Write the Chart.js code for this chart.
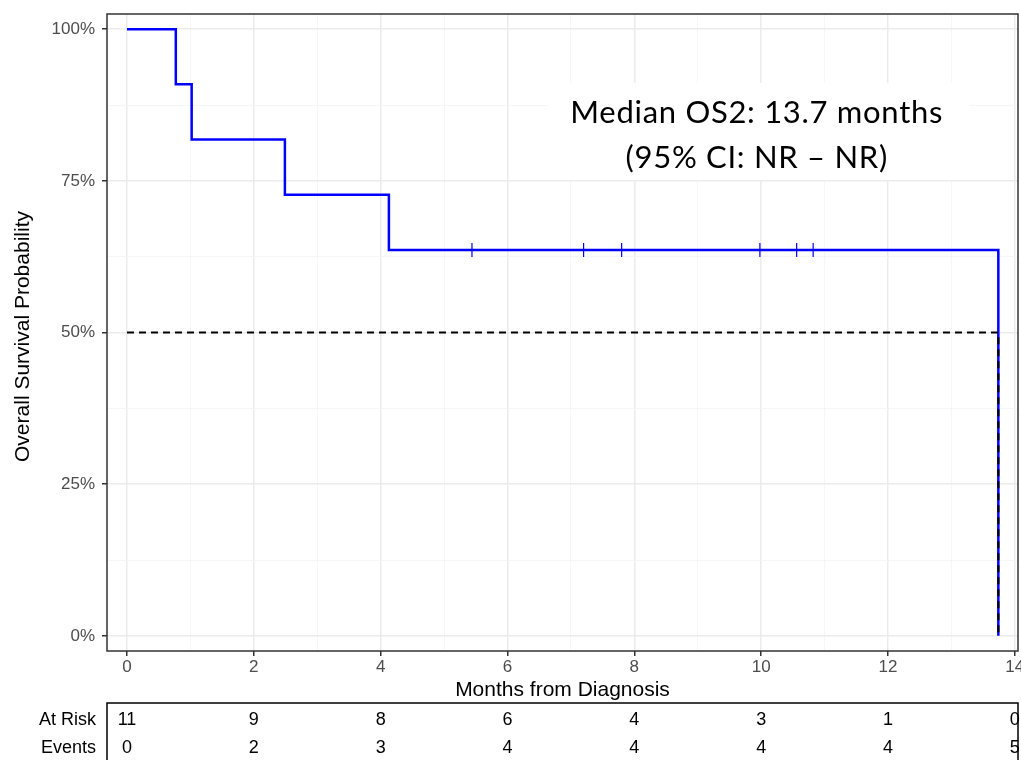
<!DOCTYPE html>
<html>
<head>
<meta charset="utf-8">
<script src="https://cdn.jsdelivr.net/npm/chart.js@4.4.1/dist/chart.umd.min.js"></script>
<style>
  body { margin: 0; background: #fff; }
  canvas { display: block; }
</style>
</head>
<body>
<canvas id="kmChart" width="1021" height="760"></canvas>
<script>
// Kaplan-Meier curve values (months, survival %)
const stepTimes = [0, 0.77, 1.02, 2.49, 4.13, 13.74];
const stepSurvival = [100, 90.9, 81.8, 72.7, 63.6, 0];
const censorTimes = [5.44, 7.2, 7.8, 9.98, 10.56, 10.82];
const censorSurvival = [63.6, 63.6, 63.6, 63.6, 63.6, 63.6];
const medianTime = 13.74;
const medianLevel = 50;

const xTickValues = [0, 2, 4, 6, 8, 10, 12, 14];
const xTickLabels = ['0', '2', '4', '6', '8', '10', '12', '14'];
const yTickValues = [0, 25, 50, 75, 100];
const yTickLabels = ['0%', '25%', '50%', '75%', '100%'];

const riskTimes = [0, 2, 4, 6, 8, 10, 12, 14];
const atRisk = [11, 9, 8, 6, 4, 3, 1, 0];
const eventsCount = [0, 2, 3, 4, 4, 4, 4, 5];

const annotationLines = ['Median OS2: 13.7 months', '(95% CI: NR \u2013 NR)'];

Chart.defaults.font.family = "'Liberation Sans', Arial, sans-serif";

// minor grid positions sit halfway between the major ticks
function withMinor(major) {
    const out = [];
    major.forEach((v, i) => {
        out.push(v);
        if (i < major.length - 1) out.push((v + major[i + 1]) / 2);
    });
    return out;
}
const isMajorX = v => xTickValues.includes(v);
const isMajorY = v => yTickValues.includes(v);

const panelPlugin = {
    id: 'panel',
    beforeDatasetsDraw(chart) {
        const c = chart.ctx;
        const x = chart.scales.x;
        const area = chart.chartArea;
        c.save();
        // white box behind the median label
        c.fillStyle = '#ffffff';
        c.fillRect(area.left + 441, 83, 422, 97);
        c.fillStyle = '#000000';
        c.font = "31px Lato, 'Open Sans', sans-serif";
        c.letterSpacing = '0.7px';
        c.textAlign = 'center';
        c.textBaseline = 'alphabetic';
        c.fillText(annotationLines[0], x.getPixelForValue(9.93), 123);
        c.fillText(annotationLines[1], x.getPixelForValue(9.93), 168);
        c.restore();
    },
    afterDraw(chart) {
        const c = chart.ctx;
        const x = chart.scales.x;
        const area = chart.chartArea;
        c.save();
        c.strokeStyle = '#333333';
        c.lineWidth = 1.5;
        c.strokeRect(area.left, area.top, area.right - area.left, area.bottom - area.top);

        // x tick labels
        c.fillStyle = '#4d4d4d';
        c.font = "17px 'Liberation Sans', Arial, sans-serif";
        c.textAlign = 'center';
        c.textBaseline = 'middle';
        xTickValues.forEach((v, i) => {
            c.fillText(xTickLabels[i], x.getPixelForValue(v), 667);
        });

        c.fillStyle = '#000000';
        c.font = "21px 'Liberation Sans', Arial, sans-serif";
        c.fillText('Months from Diagnosis', (area.left + area.right) / 2, 690);

        c.save();
        c.translate(23, (area.top + area.bottom) / 2 + 4);
        c.rotate(-Math.PI / 2);
        c.fillText('Overall Survival Probability', 0, 0);
        c.restore();

        // risk table
        c.strokeStyle = '#000000';
        c.lineWidth = 1.5;
        c.strokeRect(area.left, 703, area.right - area.left, 80);
        c.font = "18px 'Liberation Sans', Arial, sans-serif";
        c.textAlign = 'right';
        c.fillText('At Risk', 96, 720);
        c.fillText('Events', 96, 748);
        c.textAlign = 'center';
        riskTimes.forEach((t, i) => {
            const px = x.getPixelForValue(t);
            c.fillText(String(atRisk[i]), px, 720);
            c.fillText(String(eventsCount[i]), px, 748);
        });
        c.restore();
    }
};

const ctx = document.getElementById('kmChart').getContext('2d');
const kmChart = new Chart(ctx, {
    type: 'scatter',
    data: {
        datasets: [{
            label: 'Median',
            data: [{x: 0, y: medianLevel}, {x: medianTime, y: medianLevel}, {x: medianTime, y: 0}],
            showLine: true,
            borderColor: '#000000',
            borderWidth: 2.2,
            borderDash: [7, 5],
            pointRadius: 0,
            order: 0
        }, {
            label: 'Survival',
            data: stepTimes.map((t, i) => ({x: t, y: stepSurvival[i]})),
            showLine: true,
            stepped: true,
            borderColor: '#0000ff',
            borderWidth: 2.5,
            pointRadius: 0,
            order: 1
        }, {
            label: 'Censored',
            data: censorTimes.map((t, i) => ({x: t, y: censorSurvival[i]})),
            pointStyle: 'line',
            rotation: 90,
            pointRadius: 7,
            borderColor: '#0000ff',
            borderWidth: 1.2,
            order: 2
        }]
    },
    options: {
        responsive: false,
        animation: false,
        events: [],
        layout: { autoPadding: false, padding: { top: 14, right: 3, bottom: 0, left: 0 } },
        plugins: { legend: { display: false }, tooltip: { enabled: false } },
        scales: {
            x: {
                type: 'linear',
                min: -0.315,
                max: 14.05,
                afterBuildTicks: s => { s.ticks = withMinor(xTickValues).map(v => ({value: v})); },
                afterFit: s => { s.height = 109; s.paddingLeft = 0; s.paddingRight = 0; },
                border: { display: false },
                grid: {
                    color: c => isMajorX(c.tick.value) ? '#ebebeb' : '#f4f4f4',
                    lineWidth: c => isMajorX(c.tick.value) ? 1.5 : 0.8,
                    tickColor: c => isMajorX(c.tick.value) ? '#333333' : 'rgba(0,0,0,0)',
                    tickLength: 5,
                    tickWidth: 1.5
                },
                ticks: { display: false }
            },
            y: {
                type: 'linear',
                min: -2.5,
                max: 102.5,
                afterBuildTicks: s => { s.ticks = withMinor(yTickValues).map(v => ({value: v})); },
                afterFit: s => { s.width = 107; s.paddingTop = 0; s.paddingBottom = 0; },
                border: { display: false },
                grid: {
                    color: c => isMajorY(c.tick.value) ? '#ebebeb' : '#f4f4f4',
                    lineWidth: c => isMajorY(c.tick.value) ? 1.5 : 0.8,
                    tickColor: c => isMajorY(c.tick.value) ? '#333333' : 'rgba(0,0,0,0)',
                    tickLength: 5,
                    tickWidth: 1.5
                },
                ticks: {
                    autoSkip: false,
                    padding: 7,
                    color: '#4d4d4d',
                    font: { size: 17 },
                    callback: v => isMajorY(v) ? yTickLabels[yTickValues.indexOf(v)] : ''
                }
            }
        }
    },
    plugins: [panelPlugin]
});
</script>
</body>
</html>
